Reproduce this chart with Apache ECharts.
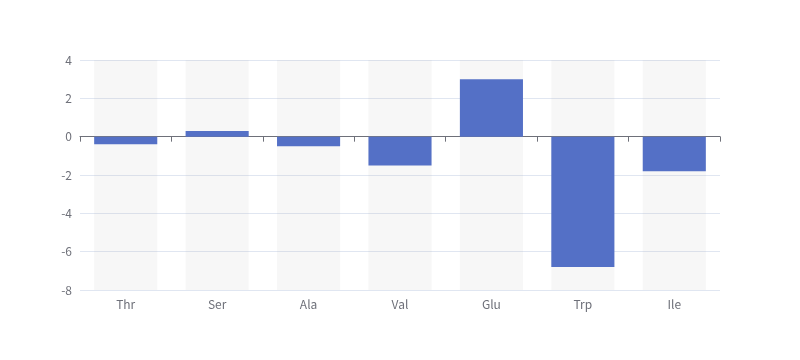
<!DOCTYPE html>
<html><head><meta charset="utf-8">
<script src="https://cdn.jsdelivr.net/npm/echarts@6/dist/echarts.min.js"></script>
<style>html,body{margin:0;padding:0;background:#fff}#c{width:800px;height:360px}</style>
</head><body><div id="c"></div>
<script>
const categories = ['Thr', 'Ser', 'Ala', 'Val', 'Glu', 'Trp', 'Ile'];
const values = [-0.4, 0.3, -0.5, -1.5, 3.0, -6.8, -1.8];
const chart = echarts.init(document.getElementById('c'), null, {renderer: 'canvas'});
const font = 'Noto Sans CJK SC';
chart.setOption({
  animation: false,
  textStyle: {fontFamily: font},
  grid: {left: 80, right: 80, top: 60, bottom: 70},
  xAxis: {
    type: 'category', data: categories,
    axisLine: {lineStyle: {color: '#6e7079'}},
    axisTick: {show: true, alignWithLabel: false, length: 5, lineStyle: {color: '#6e7079'}},
    axisLabel: {color: '#6e7079', fontFamily: font, fontSize: 12, margin: 8}
  },
  yAxis: {
    type: 'value', min: -8, max: 4, interval: 2,
    axisLabel: {color: '#6e7079', fontFamily: font, fontSize: 12, margin: 8},
    splitLine: {lineStyle: {color: '#e0e6f1'}}
  },
  series: [{
    type: 'bar',
    data: values,
    barWidth: '69%',
    showBackground: true,
    backgroundStyle: {color: 'rgba(180,180,180,0.1)'},
    itemStyle: {color: '#5470c6'}
  }]
});
</script></body></html>
